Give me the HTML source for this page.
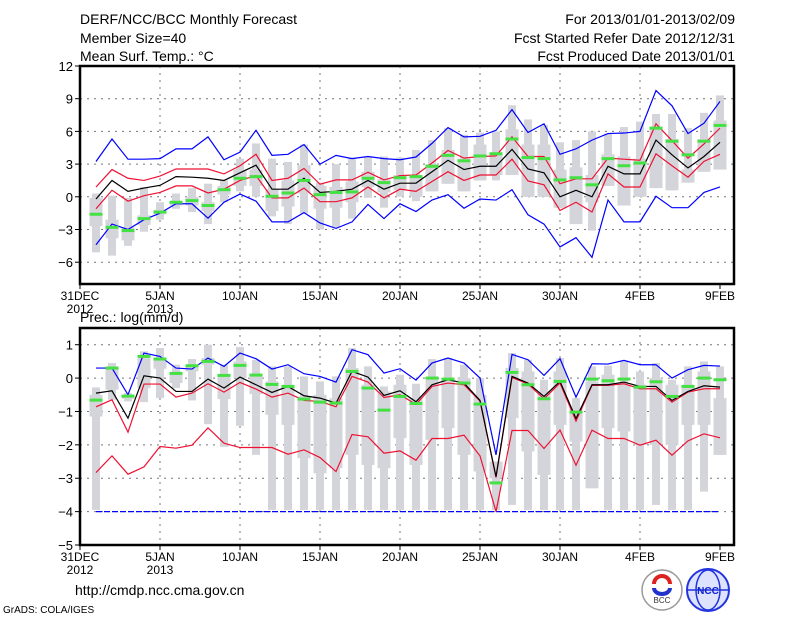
<!DOCTYPE html>
<html><head><meta charset="utf-8"><style>
html,body{margin:0;padding:0;background:#fff;}
svg{display:block;font-family:"Liberation Sans",sans-serif;}
</style></head><body>
<svg id="chart" width="800" height="618" viewBox="0 0 800 618" xmlns="http://www.w3.org/2000/svg">
<g font-size="14" fill="#000">
<text x="80" y="24">DERF/NCC/BCC Monthly Forecast</text>
<text x="80" y="43">Member Size=40</text>
<text x="80" y="61">Mean Surf. Temp.: °C</text>
<text x="735" y="24" text-anchor="end">For 2013/01/01-2013/02/09</text>
<text x="735" y="43" text-anchor="end">Fcst Started Refer Date 2012/12/31</text>
<text x="735" y="61" text-anchor="end">Fcst Produced Date 2013/01/01</text>
<text x="80" y="322">Prec.: log(mm/d)</text>
<text x="75" y="595">http://cmdp.ncc.cma.gov.cn</text>
<text x="3" y="613" font-size="10">GrADS: COLA/IGES</text>
</g>
<g>
<circle cx="662" cy="590" r="20" fill="#fff" stroke="#999" stroke-width="1.5"/>
<path d="M654 584 a8 8 0 1 1 16 0" fill="none" stroke="#d22" stroke-width="4"/>
<path d="M654 588 a8 6 0 0 0 16 0" fill="none" stroke="#23c" stroke-width="4"/>
<text x="662" y="603" font-size="8" text-anchor="middle" fill="#333">BCC</text>
<circle cx="708" cy="590" r="21" fill="#dde3ff" stroke="#2233dd" stroke-width="2"/>
<ellipse cx="708" cy="590" rx="12" ry="20" fill="none" stroke="#2233dd" stroke-width="1.5"/>
<line x1="688" y1="590" x2="728" y2="590" stroke="#2233dd" stroke-width="1.5"/>
<text x="708" y="594" font-size="10" font-weight="bold" text-anchor="middle" fill="#1122cc">NCC</text>
</g>
<g id="plots"></g>
</svg>
<script>
// ---- temperature panel data (days 1..40 = Jan 1 .. Feb 9) ----
const tempDays = Array.from({length:40},(_,i)=>i+1);
const tBlueHi = [3.24,5.3,3.45,3.45,3.5,4.4,4.4,5.5,3.4,4.1,6.1,3.8,3.9,4.8,3.0,3.8,3.5,3.7,3.5,3.4,3.65,4.9,6.35,5.5,5.55,6.1,8.0,5.9,6.7,3.9,4.4,5.2,5.8,5.85,6.0,9.75,8.35,5.8,6.75,8.75];
const tBlueLo = [-4.4,-2.5,-3.0,-2.1,-1.5,-0.64,-0.64,-1.96,-0.5,0.25,-0.4,-2.3,-2.3,-1.45,-2.4,-2.9,-2.3,-0.7,-2.0,-0.64,-1.35,-0.3,0.2,-1.05,-0.2,-0.3,0.65,-1.65,-2.5,-4.6,-3.75,-5.55,-0.3,-2.3,-2.3,0.05,-1.0,-1.0,0.4,0.9];
const tRedHi = [0.9,2.5,1.7,1.5,1.9,2.55,2.55,2.55,2.1,2.85,3.9,1.5,1.7,2.6,1.15,1.55,1.55,2.25,1.55,1.95,2.0,3.1,4.25,3.55,3.7,3.75,5.5,3.7,3.7,1.2,1.65,1.65,3.55,3.45,3.35,6.7,5.15,3.55,4.85,6.3];
const tRedLo = [-1.1,0.6,-0.4,0.1,0.4,1.0,1.0,0.35,0.7,1.5,1.95,-0.1,-0.1,0.8,-0.45,-0.45,-0.1,0.9,-0.1,0.7,0.5,1.4,2.3,1.5,2.0,2.0,3.45,1.45,1.1,-1.25,-0.5,-1.4,2.1,0.9,0.9,3.95,2.85,1.8,3.25,3.9];
const tMean = [-0.2,1.5,0.5,0.8,1.05,1.85,1.8,1.7,1.5,2.2,2.9,0.7,0.7,1.7,0.4,0.5,0.7,1.5,0.7,1.25,1.25,2.3,3.35,2.5,2.8,2.8,4.35,2.55,2.2,0,0.6,0,2.8,2.1,2.1,5.2,3.85,2.65,3.7,5.0];
const tGreen = [-1.6,-2.8,-3.1,-2.0,-1.4,-0.5,-0.35,-0.8,0.65,1.7,1.85,0.05,0.35,1.5,0.2,0.4,0.45,1.7,1.3,1.75,1.85,2.8,3.8,3.3,3.75,3.95,5.3,3.6,3.5,1.55,1.75,1.1,3.5,2.85,3.1,6.3,5.1,3.85,5.1,6.55];
const tMax = [0.3,0.1,-0.1,0.9,-0.5,0.3,0.8,1.2,1.5,3.5,4.9,3.5,3.2,4.8,1.3,3.0,3.6,3.7,3.7,3.6,4.3,5.2,6.3,5.7,5.9,6.0,8.4,7.1,6.6,5.0,5.2,6.0,5.8,6.4,6.9,7.6,7.6,6.3,7.7,9.3];
const tQ3 = [-0.1,-2.1,-2.8,-1.7,-1.2,-0.4,0,-0.5,1.0,2.5,2.5,0.7,1.5,2.9,1.0,0.9,1.4,2.3,1.6,2.0,2.0,3.0,4.3,3.5,4.8,4.0,6.2,4.8,4.8,2.5,2.7,2.0,3.9,3.7,3.5,6.2,5.3,2.5,5.3,7.0];
const tQ1 = [-2.7,-3.8,-4.0,-2.6,-1.6,-0.8,-0.8,-1.3,0.2,1.0,1.0,-1.3,-0.9,0.3,-1.1,-1.0,-0.5,0.9,0.4,0.6,0.0,0.5,1.2,0.5,1.5,2.0,2.0,0.0,0.0,-1.0,-2.5,-0.5,1.0,-0.8,0.0,0.8,0.6,1.3,2.3,2.5];
const tMin = [-5.1,-5.4,-4.5,-3.2,-2.1,-1.1,-1.4,-2.5,-0.5,0.5,0,-1.8,-2.5,-1.5,-3.0,-2.8,-2.0,-0.1,-1.0,0.0,-0.4,0.5,1.2,0.5,1.5,1.5,2.0,0.0,0.0,-1.0,-2.5,-3.1,1.0,-0.8,0.0,0.8,0.6,1.3,2.3,2.5];
const tTicks = [12,9,6,3,0,-3,-6];
// ---- precipitation panel data ----
const pBlueHi = [0.3,0.3,-0.5,0.75,0.65,0.3,0.27,0.6,0.35,0.75,0.58,0.27,0.4,0.13,0.05,-0.12,0.85,0.7,0.15,0.28,-0.06,0.45,0.6,0.45,0,-2.3,0.71,0.55,0.08,0.58,-0.57,0.43,0.42,0.53,0.4,0.4,0,0.25,0.38,0.36];
const pBlueLo = Array(40).fill(-4);
const pRedHi = [-0.86,-0.65,-1.62,-0.18,-0.18,-0.57,-0.45,-0.17,-0.42,-0.13,-0.33,-0.57,-0.45,-0.67,-0.7,-0.86,0.05,-0.12,-0.58,-0.5,-0.79,-0.25,-0.15,-0.2,-0.69,-2.98,0.02,-0.18,-0.62,-0.15,-1.29,-0.22,-0.22,-0.17,-0.32,-0.32,-0.72,-0.42,-0.32,-0.32];
const pRedLo = [-2.83,-2.33,-2.88,-2.66,-2.05,-2.1,-2.01,-1.49,-1.95,-2.08,-2.08,-2.08,-2.28,-2.15,-2.38,-2.8,-1.69,-1.76,-2.25,-2.18,-2.46,-1.81,-1.81,-1.71,-2.33,-4.0,-1.57,-1.57,-2.11,-1.56,-2.61,-1.56,-1.81,-1.81,-2.01,-1.86,-2.31,-1.88,-1.67,-1.79];
const pMean = [-0.45,-0.38,-1.2,0.07,0,-0.4,-0.4,-0.03,-0.3,0.03,-0.2,-0.43,-0.25,-0.53,-0.6,-0.75,0.2,0.03,-0.52,-0.38,-0.71,-0.2,-0.05,-0.15,-0.67,-2.95,0.05,-0.15,-0.55,-0.1,-1.21,-0.2,-0.2,-0.12,-0.25,-0.25,-0.67,-0.4,-0.23,-0.27];
const pGreen = [-0.66,0.3,-0.54,0.65,0.57,0.14,0.37,0.5,0.08,0.38,0.09,-0.19,-0.25,-0.63,-0.72,-0.75,0.2,-0.3,-0.96,-0.55,-0.76,0,-0.03,-0.15,-0.78,-3.14,0.17,-0.2,-0.62,-0.1,-1.02,-0.03,-0.08,-0.03,-0.27,-0.11,-0.55,-0.25,0,-0.05];
const pMax = [-0.28,0.45,-0.45,0.8,0.9,0.4,0.57,1.0,0.4,0.93,0.55,0.35,0.35,0.05,-0.1,0.05,0.9,0.35,-0.25,0.1,-0.17,0.57,0.6,0.4,0,-2.5,0.75,0.55,-0.05,0.6,-0.6,0.35,0.37,0.5,0.2,0.45,-0.05,0.35,0.5,0.35];
const pQ3 = [-0.5,0.35,-0.5,0.6,0.6,0.1,0.4,0.6,0.1,0.5,0.1,-0.1,-0.2,-0.55,-0.5,-0.6,0.3,-0.2,-0.4,-0.2,-0.6,0,0,0,-0.5,-2.5,0.3,0.2,-0.4,0.2,-0.9,-0.1,0.1,-0.2,-0.2,0,-0.2,-0.2,0.2,-0.6];
const pQ1 = [-1.15,-0.35,-0.62,-0.3,0.28,-0.15,0.2,0.4,-0.63,0.0,-0.48,-1.1,-1.4,-2.4,-2.85,-2.7,-2.3,-2.6,-2.7,-1.8,-2.6,-1.85,-1.5,-2.3,-2.8,-3.0,-1.2,-2.2,-2.9,-1.4,-1.9,-3.3,-1.5,-1.6,-2.0,-2.0,-2.0,-1.4,-1.4,-2.3];
const pMin = [-3.95,-0.65,-0.7,-0.72,-0.6,-0.3,-0.67,-1.38,-2.06,-1.43,-2.3,-3.95,-3.95,-3.95,-3.95,-3.95,-3.95,-3.95,-3.95,-3.95,-3.95,-3.95,-3.95,-3.95,-3.95,-3.95,-3.8,-3.95,-3.95,-3.95,-3.95,-3.3,-3.95,-3.95,-3.95,-3.8,-3.95,-3.95,-3.4,-2.3];
const pTicks = [1,0,-1,-2,-3,-4,-5];
// ---- x axis ----
const xTickDays = [0,5,10,15,20,25,30,35,40];
const xTickLabels = ["31DEC","5JAN","10JAN","15JAN","20JAN","25JAN","30JAN","4FEB","9FEB"];
const xTickYears = ["2012","2013","","","","","","",""];

const NS="http://www.w3.org/2000/svg";
const root=document.getElementById('plots');
function el(tag,attrs,parent){const e=document.createElementNS(NS,tag);for(const k in attrs)e.setAttribute(k,attrs[k]);(parent||root).appendChild(e);return e;}
const X0=80,X1=734;
const xScale=d=>X0+16*d;

function panel(cfg){
  const g=el('g',{});
  
  
  const y=v=>cfg.top+(cfg.vmax-v)*(cfg.bottom-cfg.top)/(cfg.vmax-cfg.vmin);
  // grid
  cfg.ticks.forEach(t=>{
    const yy=y(t);
    if(yy>cfg.top+1&&yy<cfg.bottom-1){
      const l=el('line',{x1:X0,x2:X1,y1:yy,y2:yy,stroke:'#777','stroke-width':1,'stroke-dasharray':'2,5'},g);
      
      
    }
    const tk=el('line',{x1:X0-5,x2:X0,y1:yy,y2:yy,stroke:'#000','stroke-width':1},g);
    
    
    const tx=el('text',{x:X0-7,y:yy+5,'text-anchor':'end','font-size':13},g);
    tx.textContent=(t<0?'\u2212'+(-t):t);
    
    
  });
  xTickDays.forEach((d,i)=>{
    const xx=xScale(d);
    if(d>0&&d<40){
      const l=el('line',{x1:xx,x2:xx,y1:cfg.top,y2:cfg.bottom,stroke:'#777','stroke-width':1,'stroke-dasharray':'2,5'},g);
      
      
    }
    const tk=el('line',{x1:xx,x2:xx,y1:cfg.bottom,y2:cfg.bottom+5,stroke:'#000'},g);
    
    
    const tx=el('text',{x:xx,y:cfg.bottom+16,'text-anchor':'middle','font-size':12},g);
    tx.textContent=xTickLabels[i];
    
    
    if(xTickYears[i]){
      const ty=el('text',{x:xx,y:cfg.bottom+29,'text-anchor':'middle','font-size':12},g);
      ty.textContent=xTickYears[i];
      
      
    }
  });
  // bars
  tempDays.forEach((d,i)=>{
    const xx=xScale(d);
    const b1=el('rect',{x:xx-4,y:y(cfg.max[i]),width:8,height:Math.max(1,y(cfg.min[i])-y(cfg.max[i])),fill:'#d4d5da'},g);
    
    
    const b2=el('rect',{x:xx-6.5,y:y(cfg.q3[i]),width:13,height:Math.max(1,y(cfg.q1[i])-y(cfg.q3[i])),fill:'#d4d5da'},g);
    
    
  });
  const line=(arr,color,name,dash)=>{
    const p=el('polyline',{points:arr.map((v,i)=>xScale(tempDays[i])+','+y(v)).join(' '),fill:'none',stroke:color,'stroke-width':1.2},g);
    if(dash)p.setAttribute('stroke-dasharray',dash);
    
    
  };
  line(cfg.blueLo,'#0000ff','blue-lower-line',cfg.blueDash);
  line(cfg.blueHi,'#0000ff','blue-upper-line');
  line(cfg.redLo,'#ee1133','red-lower-line');
  line(cfg.redHi,'#ee1133','red-upper-line');
  line(cfg.mean,'#000','ensemble-mean-line');
  tempDays.forEach((d,i)=>{
    const m=el('rect',{x:xScale(d)-6.5,y:y(cfg.green[i])-1.5,width:13,height:3,fill:'#44e044'},g);
    
    
  });
  const fr=el('rect',{x:X0,y:cfg.top,width:X1-X0,height:cfg.bottom-cfg.top,fill:'none',stroke:'#000','stroke-width':2.5},g);
  
  
}
panel({name:'temperature-panel',top:66,bottom:284,vmax:12,vmin:-8,ticks:tTicks,max:tMax,q3:tQ3,q1:tQ1,min:tMin,blueHi:tBlueHi,blueLo:tBlueLo,redHi:tRedHi,redLo:tRedLo,mean:tMean,green:tGreen});
panel({name:'precipitation-panel',top:328,bottom:545,vmax:1.5,vmin:-5,ticks:pTicks,max:pMax,q3:pQ3,q1:pQ1,min:pMin,blueHi:pBlueHi,blueLo:pBlueLo,redHi:pRedHi,redLo:pRedLo,mean:pMean,green:pGreen,blueDash:'6,2'});
</script>
</body></html>
